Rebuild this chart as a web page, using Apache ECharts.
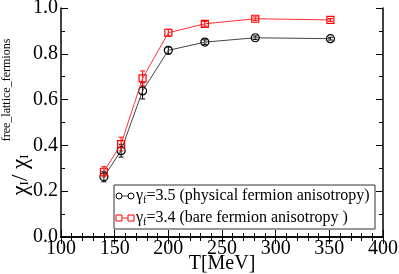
<!DOCTYPE html>
<html><head><meta charset="utf-8">
<script src="https://cdn.jsdelivr.net/npm/echarts@6/dist/echarts.min.js"></script>
<style>html,body{margin:0;padding:0;background:#fff}#c{width:399px;height:274px}</style>
</head><body><div id="c"></div>
<script>
const temps = [140, 156, 176, 200, 234, 281, 351];
const blackVals = [0.263, 0.377, 0.638, 0.815, 0.851, 0.870, 0.866];
const blackErr = [0.022, 0.028, 0.035, 0.015, 0.010, 0.008, 0.006];
const redVals = [0.285, 0.406, 0.693, 0.892, 0.931, 0.953, 0.948];
const redErr = [0.022, 0.030, 0.032, 0.015, 0.010, 0.008, 0.006];
const xTicks = [100, 150, 200, 250, 300, 350, 400];
const yTicks = [0.0, 0.2, 0.4, 0.6, 0.8, 1.0];

const font = 'Liberation Serif';
const chart = echarts.init(document.getElementById('c'));

function errSeries(vals, errs, color, z) {
  return {
    type: 'custom', z: z, silent: true,
    data: temps.map((t, i) => [t, vals[i] - errs[i], vals[i] + errs[i]]),
    renderItem: function (params, api) {
      const lo = api.coord([api.value(0), api.value(1)]);
      const hi = api.coord([api.value(0), api.value(2)]);
      const w = 2.5;
      const st = { stroke: color, lineWidth: 1 };
      return { type: 'group', children: [
        { type: 'line', shape: { x1: lo[0], y1: lo[1], x2: hi[0], y2: hi[1] }, style: st },
        { type: 'line', shape: { x1: lo[0] - w, y1: lo[1], x2: lo[0] + w, y2: lo[1] }, style: st },
        { type: 'line', shape: { x1: hi[0] - w, y1: hi[1], x2: hi[0] + w, y2: hi[1] }, style: st }
      ]};
    }
  };
}

const axisCommon = {
  axisLine: { show: true, lineStyle: { color: '#000', width: 1.5 } },
  axisTick: { show: true, inside: true, length: 7, lineStyle: { color: '#000', width: 1 } },
  minorTick: { show: true, splitNumber: 5, length: 4, lineStyle: { color: '#000', width: 1 } },
  splitLine: { show: false }
};

chart.setOption({
  animation: false,
  grid: { left: 61, right: 16, top: 8, bottom: 37, containLabel: false, outerBoundsMode: 'none' },
  xAxis: [
    Object.assign({}, axisCommon, {
      type: 'value', min: 100, max: 400, interval: 50, position: 'bottom',
      axisLabel: { fontFamily: font, fontSize: 20, color: '#000', margin: 2,
        formatter: v => xTicks.includes(v) ? String(v) : '' },
      name: 'T[MeV]', nameLocation: 'middle', nameGap: 17, nameMoveOverlap: false,
      nameTextStyle: { fontFamily: font, fontSize: 20, color: '#000', verticalAlign: 'top' }
    }),
    Object.assign({}, axisCommon, {
      type: 'value', min: 100, max: 400, interval: 50, position: 'top',
      axisLabel: { show: false }
    })
  ],
  yAxis: [
    Object.assign({}, axisCommon, {
      type: 'value', min: 0, max: 1, interval: 0.2, position: 'left',
      minorTick: Object.assign({}, axisCommon.minorTick, { splitNumber: 2 }),
      axisLabel: { fontFamily: font, fontSize: 20, color: '#000', margin: 3,
        formatter: v => yTicks.some(t => Math.abs(t - v) < 1e-9) ? v.toFixed(1) : '' }
    }),
    Object.assign({}, axisCommon, {
      type: 'value', min: 0, max: 1, interval: 0.2, position: 'right',
      minorTick: Object.assign({}, axisCommon.minorTick, { splitNumber: 2 }),
      axisLabel: { show: false }
    })
  ],
  series: [
    errSeries(blackVals, blackErr, '#000', 3),
    errSeries(redVals, redErr, '#ff0000', 4),
    {
      type: 'line', name: 'black', z: 5,
      data: temps.map((t, i) => [t, blackVals[i]]),
      symbol: 'circle', symbolSize: 8, showAllSymbol: true,
      lineStyle: { color: '#444', width: 1 },
      itemStyle: { color: 'rgba(0,0,0,0)', borderColor: '#000', borderWidth: 1.2 }
    },
    {
      type: 'line', name: 'red', z: 6,
      data: temps.map((t, i) => [t, redVals[i]]),
      symbol: 'rect', symbolSize: 7, showAllSymbol: true,
      lineStyle: { color: '#ff3333', width: 1 },
      itemStyle: { color: 'rgba(0,0,0,0)', borderColor: '#ff0000', borderWidth: 1.2 }
    }
  ],
  graphic: [
    { type: 'text', x: 21, y: 175, rotation: Math.PI / 2,
      style: { text: '{a|χ}{s|I}{a|/ χ}{s|I}', align: 'center', verticalAlign: 'middle',
        rich: { a: { fontFamily: font, fontSize: 23, fill: '#000' },
                s: { fontFamily: font, fontSize: 13, fill: '#000', padding: [8, 0, 0, 0] } } } },
    { type: 'text', x: 7, y: 90, rotation: Math.PI / 2,
      style: { text: 'free_lattice_fermions', align: 'center', verticalAlign: 'middle',
        fontFamily: font, fontSize: 12, fill: '#000' } },
    { type: 'rect', shape: { x: 114, y: 185, width: 261, height: 44 },
      style: { fill: '#fff', stroke: '#333', lineWidth: 1 }, z: 10 },
    { type: 'line', shape: { x1: 119, y1: 196, x2: 131, y2: 196 }, style: { stroke: '#444', lineWidth: 1 }, z: 11 },
    { type: 'circle', shape: { cx: 119, cy: 196, r: 3 }, style: { fill: '#fff', stroke: '#000', lineWidth: 1 }, z: 11 },
    { type: 'circle', shape: { cx: 131, cy: 196, r: 3 }, style: { fill: '#fff', stroke: '#000', lineWidth: 1 }, z: 11 },
    { type: 'line', shape: { x1: 119, y1: 218, x2: 131, y2: 218 }, style: { stroke: '#ff3333', lineWidth: 1 }, z: 11 },
    { type: 'rect', shape: { x: 116, y: 215, width: 6, height: 6 }, style: { fill: '#fff', stroke: '#ff0000', lineWidth: 1 }, z: 11 },
    { type: 'rect', shape: { x: 128, y: 215, width: 6, height: 6 }, style: { fill: '#fff', stroke: '#ff0000', lineWidth: 1 }, z: 11 },
    { type: 'text', x: 136, y: 196, z: 11,
      style: { text: '{a|γ}{s|f}{a|=3.5 (physical fermion anisotropy)}', verticalAlign: 'middle',
        rich: { a: { fontFamily: font, fontSize: 16, fill: '#000' },
                s: { fontFamily: font, fontSize: 10, fill: '#000', padding: [8, 0, 0, 0] } } } },
    { type: 'text', x: 136, y: 218, z: 11,
      style: { text: '{a|γ}{s|f}{a|=3.4 (bare fermion anisotropy )}', verticalAlign: 'middle',
        rich: { a: { fontFamily: font, fontSize: 16, fill: '#000' },
                s: { fontFamily: font, fontSize: 10, fill: '#000', padding: [8, 0, 0, 0] } } } }
  ]
});
</script></body></html>
